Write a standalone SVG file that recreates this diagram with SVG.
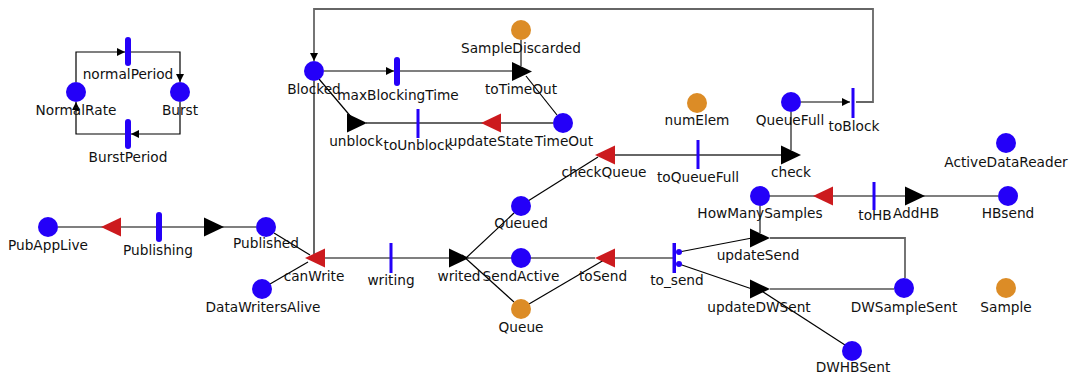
<svg xmlns="http://www.w3.org/2000/svg" width="1071" height="374" viewBox="0 0 1071 374">
  <style>
    .pl { fill: #2400f8; }
    .po { fill: #dc8c26; }
    .bar { fill: #2400f8; }
    .tr { fill: #cc1a1e; }
    .tk { fill: #000; }
    .lbl { font-family: "DejaVu Sans", "Liberation Sans", sans-serif; font-size: 13.7px; fill: #111; text-anchor: middle; }
    .c { stroke: #000; stroke-width: 1.2; fill: none; }
    .g { stroke: #666; stroke-width: 1.8; fill: none; }
  </style>
  <defs>
    <marker id="arrow" viewBox="0 0 8 8" refX="8" refY="4" markerWidth="8" markerHeight="8" markerUnits="userSpaceOnUse" orient="auto">
      <path d="M0,0 L8,4 L0,8 z" fill="#000"/>
    </marker>
  </defs>
  <rect width="1071" height="374" fill="#fff"/>

  <!-- arcs -->
  <g id="connectors">
    <path class="c" d="M76,82 V52 H125" marker-end="url(#arrow)"/>
    <path class="c" d="M131,52 H180 V82" marker-end="url(#arrow)"/>
    <path class="c" d="M180,102 V134 H131" marker-end="url(#arrow)"/>
    <path class="c" d="M125,134 H76 V102" marker-end="url(#arrow)"/>
    <path class="g" d="M856,102 H873 V9 H314 V61" marker-end="url(#arrow)"/>
    <path class="c" d="M314,81 V254"/>
    <path class="c" d="M324,71 H394" marker-end="url(#arrow)"/>
    <path class="c" d="M400,71 H512"/>
    <path class="g" d="M521,40 V66"/>
    <path class="c" d="M557,115 L526,76"/>
    <path class="g" d="M366,123 H553"/>
    <path class="c" d="M319,79 L352,118"/>
    <path class="g" d="M615,155 H781"/>
    <path class="g" d="M791,112 V150"/>
    <path class="c" d="M801,102 H850" marker-end="url(#arrow)"/>
    <path class="c" d="M528,201 L598,157"/>
    <path class="c" d="M58,227 H256"/>
    <path class="c" d="M274,233 L310,255"/>
    <path class="c" d="M270,284 L308,262"/>
    <path class="c" d="M325,258 H449"/>
    <path class="c" d="M466,258 L514,213"/>
    <path class="c" d="M462,255 L514,302"/>
    <path class="c" d="M468,258 H595"/>
    <path class="c" d="M529,304 L604,260"/>
    <path class="c" d="M615,258 H674"/>
    <path class="c" d="M679,252 L752,238"/>
    <path class="c" d="M679,264 L755,290"/>
    <path class="g" d="M760,206 V233"/>
    <path class="g" d="M770,238 H905 V278"/>
    <path class="c" d="M894,289 H770"/>
    <path class="c" d="M845,345 L757,288"/>
    <path class="c" d="M769,196 H998"/>
  </g>

  <!-- rate loop -->
  <g id="NormalRate"><circle class="pl" cx="76" cy="92" r="10"/><text class="lbl" x="76" y="115">NormalRate</text></g>
  <g id="Burst"><circle class="pl" cx="180" cy="92" r="10"/><text class="lbl" x="180" y="115">Burst</text></g>
  <g id="normalPeriod"><rect class="bar" x="125" y="37" width="6" height="29" rx="3"/><text class="lbl" x="128" y="79">normalPeriod</text></g>
  <g id="BurstPeriod"><rect class="bar" x="125" y="119" width="6" height="30" rx="3"/><text class="lbl" x="128" y="162">BurstPeriod</text></g>

  <!-- blocking / timeout -->
  <g id="Blocked"><circle class="pl" cx="314" cy="71" r="10"/><text class="lbl" x="314" y="94">Blocked</text></g>
  <g id="maxBlockingTime"><rect class="bar" x="394" y="57" width="6" height="29" rx="3"/><text class="lbl" x="398" y="100">maxBlockingTime</text></g>
  <g id="SampleDiscarded"><circle class="po" cx="521" cy="30" r="10"/><text class="lbl" x="521" y="53">SampleDiscarded</text></g>
  <g id="toTimeOut"><polygon class="tk" points="512,62 512,81 532,71.5"/><text class="lbl" x="521" y="94">toTimeOut</text></g>
  <g id="TimeOut"><circle class="pl" cx="563" cy="123" r="10"/><text class="lbl" x="564" y="146">TimeOut</text></g>
  <g id="updateState"><polygon class="tr" points="501,113.5 501,132.5 481,123"/><text class="lbl" x="491" y="146">updateState</text></g>
  <g id="toUnblock"><rect class="bar" x="416.5" y="109" width="3" height="29"/><text class="lbl" x="418" y="150">toUnblock</text></g>
  <g id="unblock"><polygon class="tk" points="347,113.5 347,132.5 367,123"/><text class="lbl" x="356" y="146">unblock</text></g>

  <!-- queue checking -->
  <g id="numElem"><circle class="po" cx="697" cy="103" r="10"/><text class="lbl" x="697" y="125">numElem</text></g>
  <g id="QueueFull"><circle class="pl" cx="791" cy="102" r="10"/><text class="lbl" x="790" y="125">QueueFull</text></g>
  <g id="toBlock"><rect class="bar" x="851.5" y="88" width="3" height="30"/><text class="lbl" x="854" y="131">toBlock</text></g>
  <g id="checkQueue"><polygon class="tr" points="615,145.5 615,164.5 595,155"/><text class="lbl" x="604" y="177">checkQueue</text></g>
  <g id="toQueueFull"><rect class="bar" x="696.5" y="140" width="3" height="29"/><text class="lbl" x="698" y="182">toQueueFull</text></g>
  <g id="check"><polygon class="tk" points="781,145.5 781,164.5 801,155"/><text class="lbl" x="791" y="177">check</text></g>
  <g id="ActiveDataReader"><circle class="pl" cx="1006" cy="143" r="10"/><text class="lbl" x="1006" y="167">ActiveDataReader</text></g>

  <!-- publishing -->
  <g id="PubAppLive"><circle class="pl" cx="48" cy="227" r="10"/><text class="lbl" x="48" y="250">PubAppLive</text></g>
  <g id="Publishing">
    <polygon class="tr" points="121,217.5 121,236.5 101,227"/>
    <rect class="bar" x="156" y="212" width="6" height="30" rx="3"/>
    <polygon class="tk" points="204,217.5 204,236.5 224,227"/>
    <text class="lbl" x="158" y="255">Publishing</text>
  </g>
  <g id="Published"><circle class="pl" cx="266" cy="227" r="10"/><text class="lbl" x="266" y="248">Published</text></g>
  <g id="DataWritersAlive"><circle class="pl" cx="262" cy="289" r="10"/><text class="lbl" x="263" y="312">DataWritersAlive</text></g>
  <g id="canWrite"><polygon class="tr" points="325,248.5 325,267.5 305,258"/><text class="lbl" x="314" y="281">canWrite</text></g>
  <g id="writing"><rect class="bar" x="389.5" y="243" width="3" height="30"/><text class="lbl" x="391" y="285">writing</text></g>
  <g id="writed"><polygon class="tk" points="449,248.5 449,267.5 469,258"/><text class="lbl" x="459" y="281">writed</text></g>
  <g id="Queued"><circle class="pl" cx="521" cy="206" r="10"/><text class="lbl" x="521" y="228">Queued</text></g>
  <g id="SendActive"><circle class="pl" cx="521" cy="258" r="10"/><text class="lbl" x="521" y="281">SendActive</text></g>
  <g id="Queue"><circle class="po" cx="521" cy="309" r="10"/><text class="lbl" x="521" y="332">Queue</text></g>
  <g id="toSend"><polygon class="tr" points="615,248.5 615,267.5 595,258"/><text class="lbl" x="603" y="281">toSend</text></g>
  <g id="to_send">
    <rect class="bar" x="672.5" y="243" width="3.5" height="30"/>
    <circle class="pl" cx="679" cy="252" r="3"/>
    <circle class="pl" cx="679" cy="264" r="3"/>
    <text class="lbl" x="677" y="285">to_send</text>
  </g>

  <!-- sending / heartbeat -->
  <g id="HowManySamples"><circle class="pl" cx="760" cy="196" r="10"/><text class="lbl" x="760" y="218">HowManySamples</text></g>
  <g id="toHB">
    <polygon class="tr" points="833,186.5 833,205.5 813,196"/>
    <rect class="bar" x="872.5" y="182" width="3" height="28"/>
    <text class="lbl" x="875" y="220">toHB</text>
  </g>
  <g id="AddHB"><polygon class="tk" points="905,186.5 905,205.5 925,196"/><text class="lbl" x="916" y="218">AddHB</text></g>
  <g id="HBsend"><circle class="pl" cx="1008" cy="196" r="10"/><text class="lbl" x="1008" y="218">HBsend</text></g>
  <g id="updateSend"><polygon class="tk" points="750,228.5 750,247.5 770,238"/><text class="lbl" x="758" y="260">updateSend</text></g>
  <g id="updateDWSent"><polygon class="tk" points="750,279.5 750,298.5 770,289"/><text class="lbl" x="759" y="312">updateDWSent</text></g>
  <g id="DWSampleSent"><circle class="pl" cx="904" cy="288" r="10"/><text class="lbl" x="904" y="312">DWSampleSent</text></g>
  <g id="DWHBSent"><circle class="pl" cx="852" cy="351" r="10"/><text class="lbl" x="853" y="372">DWHBSent</text></g>
  <g id="Sample"><circle class="po" cx="1006" cy="288" r="10"/><text class="lbl" x="1006" y="312">Sample</text></g>
</svg>
